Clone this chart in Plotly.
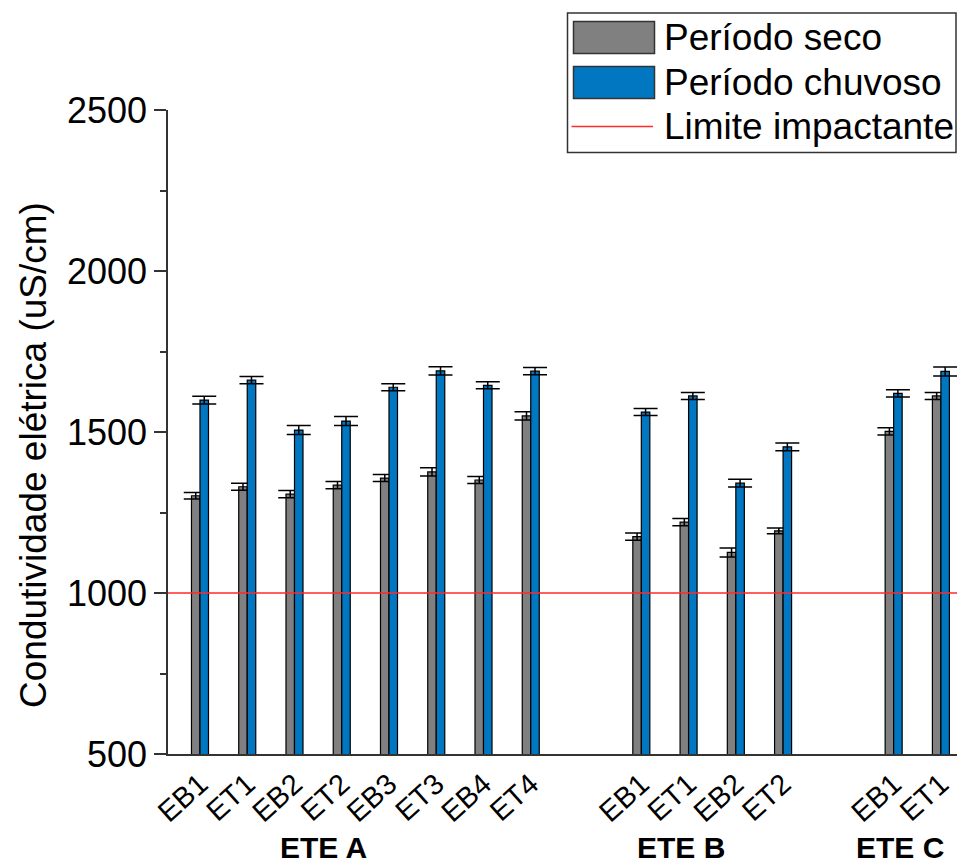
import plotly.graph_objects as go

# ---------------- data ----------------
groups = ["ETE A", "ETE B", "ETE C"]
cats_A = ["EB1", "ET1", "EB2", "ET2", "EB3", "ET3", "EB4", "ET4"]
cats_B = ["EB1", "ET1", "EB2", "ET2"]
cats_C = ["EB1", "ET1"]

seco_A = [1302, 1330, 1307, 1335, 1357, 1376, 1351, 1550]
chuv_A = [1599, 1661, 1506, 1534, 1639, 1690, 1645, 1689]
err_seco_A = [10, 11, 11, 11, 11, 13, 11, 13]
err_chuv_A = [12, 11, 14, 14, 11, 13, 11, 11]

seco_B = [1175, 1220, 1126, 1193]
chuv_B = [1562, 1612, 1341, 1454]
err_seco_B = [11, 11, 14, 9]
err_chuv_B = [11, 11, 12, 12]

seco_C = [1502, 1612]
chuv_C = [1620, 1688]
err_seco_C = [11, 11]
err_chuv_C = [11, 14]

limite = 1000
y_ticks = [500, 1000, 1500, 2000, 2500]

# ---------------- layout helpers ----------------
OFF = 8                      # page body margin
W, H = 965 - OFF, 866 - OFF  # figure size
L, R, T, B = 168 - OFF, 0, 110 - OFF, H - (754 - OFF)
group_start = [0.0, 9.34, 14.68]
x_range = [-0.677, 16.19]
bar_w = 0.18

def px_x(px):  # page pixel -> paper x
    return (px - OFF - L) / (W - L - R)

def px_y(py):  # page pixel -> paper y
    return (H - B - (py - OFF)) / (H - T - B)

cats = [cats_A, cats_B, cats_C]
xs, labels = [], []
for g, c in zip(group_start, cats):
    for i, lab in enumerate(c):
        xs.append(g + i)
        labels.append(lab)

seco = seco_A + seco_B + seco_C
chuv = chuv_A + chuv_B + chuv_C
err_s = err_seco_A + err_seco_B + err_seco_C
err_c = err_chuv_A + err_chuv_B + err_chuv_C

GRAY = "#808080"
BLUE = "#0077C0"
AX = "#333333"
RED = "#FF2A2A"
FONT = "Liberation Sans, Arial, sans-serif"

fig = go.Figure()
fig.add_trace(go.Bar(
    x=xs, y=seco, name="Período seco", width=bar_w, offset=-bar_w,
    marker=dict(color=GRAY, line=dict(color="black", width=1.2)),
    error_y=dict(type="data", array=err_s, color="black", thickness=1.5, width=12),
    showlegend=False,
))
fig.add_trace(go.Bar(
    x=xs, y=chuv, name="Período chuvoso", width=bar_w, offset=0,
    marker=dict(color=BLUE, line=dict(color="black", width=1.2)),
    error_y=dict(type="data", array=err_c, color="black", thickness=1.5, width=12),
    showlegend=False,
))
fig.add_trace(go.Scatter(
    x=x_range, y=[limite, limite], mode="lines", name="Limite impactante",
    line=dict(color=RED, width=1.5), showlegend=False, cliponaxis=False,
))

shapes = []
annotations = []

# custom legend
shapes.append(dict(type="rect", xref="paper", yref="paper",
                   x0=px_x(567.5), x1=px_x(956), y0=px_y(152.5), y1=px_y(13),
                   line=dict(color=AX, width=1.5), fillcolor="white", layer="above"))
shapes.append(dict(type="rect", xref="paper", yref="paper",
                   x0=px_x(573.5), x1=px_x(654.5), y0=px_y(53.5), y1=px_y(21.5),
                   line=dict(color=AX, width=1.5), fillcolor=GRAY, layer="above"))
shapes.append(dict(type="rect", xref="paper", yref="paper",
                   x0=px_x(573.5), x1=px_x(654.5), y0=px_y(98.5), y1=px_y(66.5),
                   line=dict(color=AX, width=1.5), fillcolor=BLUE, layer="above"))
shapes.append(dict(type="line", xref="paper", yref="paper",
                   x0=px_x(571.5), x1=px_x(653), y0=px_y(126.5), y1=px_y(126.5),
                   line=dict(color=RED, width=1.5), layer="above"))
for name, py in [("Período seco", 37), ("Período chuvoso", 82), ("Limite impactante", 126)]:
    annotations.append(dict(text=name, xref="paper", yref="paper", x=px_x(662), y=px_y(py),
                            xanchor="left", yanchor="middle", showarrow=False,
                            font=dict(size=37, color="black", family=FONT)))

# y-axis title
annotations.append(dict(text="Condutividade elétrica (uS/cm)", xref="paper", yref="paper",
                        x=px_x(33), y=px_y(455), textangle=-90, showarrow=False,
                        xanchor="center", yanchor="middle",
                        font=dict(size=37, color="black", family=FONT)))

# group labels
for gname, gx in zip(groups, [2.62, 10.18, 14.81]):
    annotations.append(dict(text="<b>" + gname + "</b>", xref="x", yref="paper",
                            x=gx, y=px_y(866), showarrow=False,
                            xanchor="center", yanchor="bottom",
                            font=dict(size=30, color="black", family=FONT)))

fig.update_layout(
    width=W, height=H,
    margin=dict(l=L, r=R, t=T, b=B, pad=0),
    plot_bgcolor="white", paper_bgcolor="white",
    barmode="overlay",
    font=dict(family=FONT, color="black"),
    shapes=shapes, annotations=annotations,
    showlegend=False,
)
fig.update_xaxes(
    range=x_range, tickmode="array", tickvals=xs, ticktext=labels,
    tickangle=-42, ticks="", showline=True, linecolor=AX, linewidth=1.5,
    showgrid=False, zeroline=False, tickfont=dict(size=29, color="black", family=FONT),
)
fig.update_yaxes(
    range=[500, 2500], tickmode="array", tickvals=y_ticks,
    ticks="outside", ticklen=12, tickwidth=1.5, tickcolor=AX,
    showline=True, linecolor=AX, linewidth=1.5, showgrid=False, zeroline=False,
    minor=dict(tickmode="linear", tick0=500, dtick=250, ticks="outside", ticklen=6,
               tickwidth=1.5, tickcolor=AX, showgrid=False),
    tickfont=dict(size=36, color="black", family=FONT),
)

fig.write_html("out.html")
